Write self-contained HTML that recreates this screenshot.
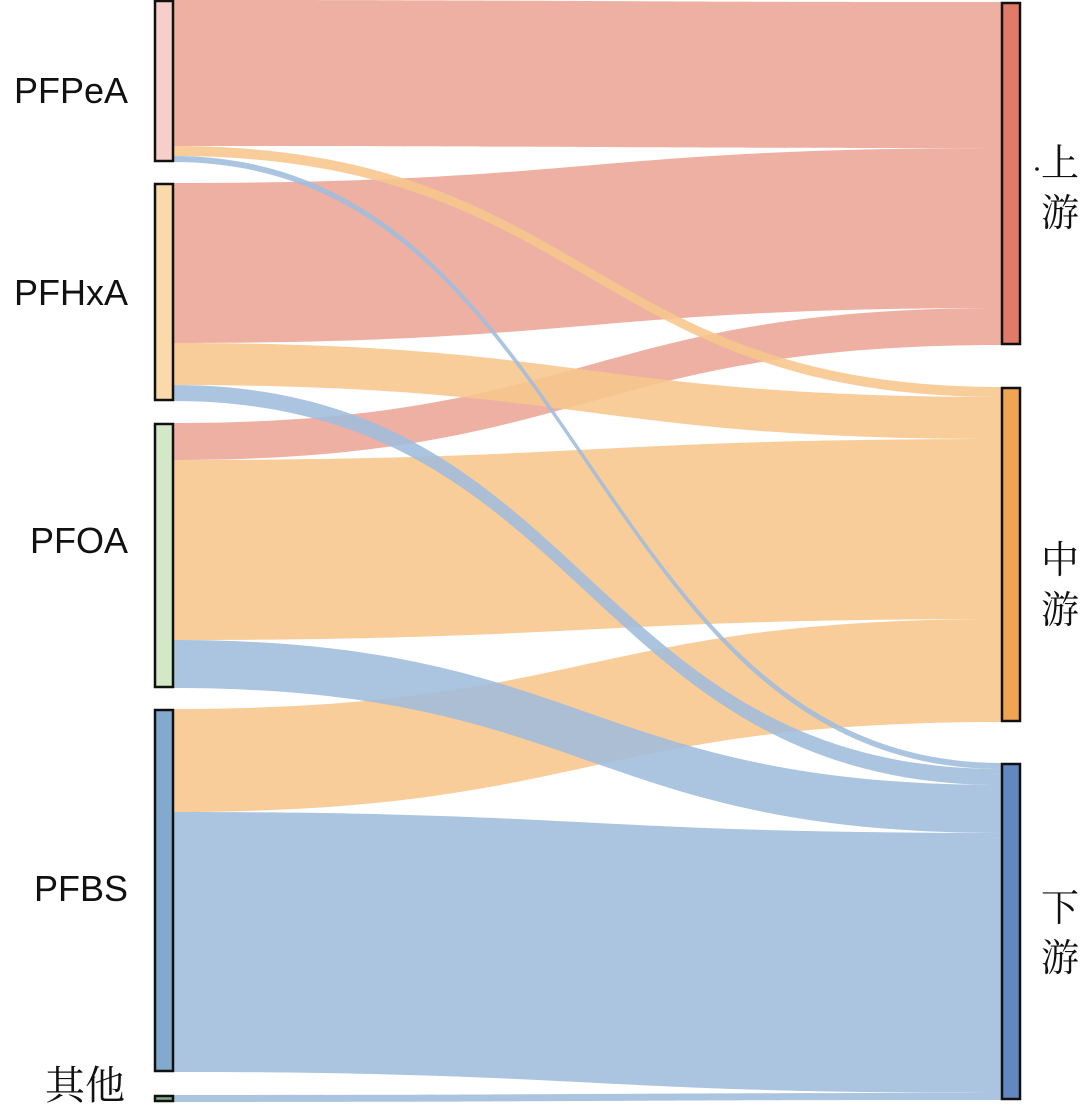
<!DOCTYPE html>
<html><head><meta charset="utf-8"><style>
html,body{margin:0;padding:0;background:#fff;}
svg{display:block;}
text{fill:#111;}
.lat{font-family:"Liberation Sans","Noto Sans CJK SC",sans-serif;}
.cjk{font-family:"Noto Serif CJK SC","Liberation Serif",serif;}
</style></head><body>
<svg id="chart" width="1080" height="1107" viewBox="0 0 1080 1107"></svg>
<script>
const sources = ["PFPeA","PFHxA","PFOA","PFBS","其他"];
const targets = ["上游","中游","下游"];
// flow values: rows = sources, columns = targets (上游, 中游, 下游)
const toUpstream   = [146, 160, 37, 0, 0];
const toMidstream  = [10, 42, 180, 103, 0];
const toDownstream = [6, 16, 48, 260, 7];

const NS="http://www.w3.org/2000/svg";
const svg=document.getElementById('chart');
function el(tag,attrs,parent){const e=document.createElementNS(NS,tag);for(const k in attrs)e.setAttribute(k,attrs[k]);(parent||svg).appendChild(e);return e;}

const srcStartY=[0,183,423,709,1095];
const tgtStartY=[2,387,763];
const LX0=155,LX1=173,RX0=1002,RX1=1020;
const srcFill=["#f6cfca","#fad9aa","#d3e8c6","#84a9cf","#7fb08a"];
const tgtFill=["#df7b68","#f0a552","#6288bf"];
const flowFill=["#eca596","#f7c68c","#9fbcdc"];
const matrix=[toUpstream,toMidstream,toDownstream];

const flows=el('g',{});
const srcCursor=srcStartY.slice(), tgtCursor=tgtStartY.slice();
const srcTot=sources.map((s,i)=>matrix.reduce((a,r)=>a+r[i],0));
const tgtTot=targets.map((t,j)=>matrix[j].reduce((a,b)=>a+b,0));
const paths=[];
for(let i=0;i<sources.length;i++){
  for(let j=0;j<targets.length;j++){
    const v=matrix[j][i]; if(!v) continue;
    const y0=srcCursor[i]; srcCursor[i]+=v;
    paths.push({i,j,v,y0});
  }
}
for(let j=0;j<targets.length;j++){
  for(let i=0;i<sources.length;i++){
    const p=paths.find(q=>q.i===i&&q.j===j); if(!p) continue;
    p.y1=tgtCursor[j]; tgtCursor[j]+=p.v;
  }
}
const mx=(LX1+RX0)/2;
paths.slice().sort((a,b)=>a.j-b.j).forEach(p=>{
  const a=p.y0,b=p.y0+p.v,c=p.y1,d=p.y1+p.v;
  const dstr=`M${LX1},${a} C${mx},${a} ${mx},${c} ${RX0},${c} L${RX0},${d} C${mx},${d} ${mx},${b} ${LX1},${b} Z`;
  const e=el('path',{d:dstr,fill:flowFill[p.j],'fill-opacity':0.88},flows);
  
  
});

for(let i=0;i<sources.length;i++){
  const r=el('rect',{x:LX0,y:srcStartY[i]+1,width:LX1-LX0,height:Math.max(srcTot[i]-2,3),fill:srcFill[i],stroke:'#111','stroke-width':2.5});
  
  
}
for(let j=0;j<targets.length;j++){
  const r=el('rect',{x:RX0,y:tgtStartY[j]+1,width:RX1-RX0,height:tgtTot[j]-2,fill:tgtFill[j],stroke:'#111','stroke-width':2.5});
  
  
}
const labelY=[90,292,540,888,1086];
for(let i=0;i<sources.length;i++){
  const isCjk=i===4;
  const t=el('text',{x:isCjk?125:128,y:labelY[i]+13,'text-anchor':'end','font-size':isCjk?40:36,'class':isCjk?'cjk':'lat'});
  t.textContent=sources[i];
  
  
}
const tgtLabelY=[160,557,905];
for(let j=0;j<targets.length;j++){
  const t1=el('text',{x:1060,y:tgtLabelY[j]+16,'text-anchor':'middle','font-size':38,'class':'cjk'});
  t1.textContent=targets[j][0];
  
  
  const t2=el('text',{x:1060,y:tgtLabelY[j]+66,'text-anchor':'middle','font-size':38,'class':'cjk'});
  t2.textContent=targets[j][1];
  
  
}
const dot=el('circle',{cx:1037,cy:169,r:1.8,fill:'#111'});


</script>
</body></html>
